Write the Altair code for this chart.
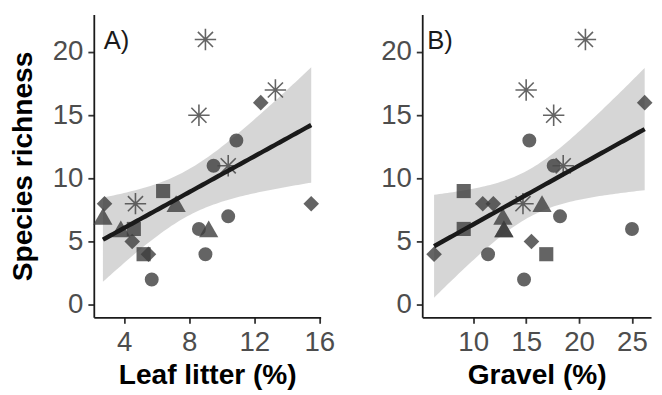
import altair as alt
import numpy as np
import pandas as pd

# ---- data ----
groups = ["ast"] * 5 + ["dia"] * 5 + ["cir"] * 6 + ["sqr"] * 3 + ["tri"] * 4
richness = [21, 17, 15, 11, 8,
            16, 8, 8, 5, 4,
            13, 11, 7, 6, 4, 2,
            9, 6, 4,
            8, 7, 6, 6]
leaf_litter = [9.0, 13.3, 8.6, 10.4, 4.7,
               12.4, 15.5, 2.8, 4.5, 5.5,
               10.9, 9.5, 10.4, 8.6, 9.0, 5.7,
               6.4, 4.6, 5.2,
               7.2, 2.7, 3.8, 9.2]
gravel = [20.6, 15.0, 17.6, 18.5, 14.7,
          26.2, 10.9, 11.9, 15.5, 6.3,
          15.3, 17.6, 18.2, 25.0, 11.4, 14.8,
          9.1, 9.1, 16.9,
          16.5, 12.8, 12.9, 12.9]

y_ticks = [0, 5, 10, 15, 20]
leaf_ticks = [4, 8, 12, 16]
gravel_ticks = [10, 15, 20, 25]

FONT = "Liberation Sans"
PT = "#3d3d3d"
ASTERISK = "M-1,0L1,0M0,-1L0,1M-0.707,-0.707L0.707,0.707M-0.707,0.707L0.707,-0.707"
Y_DOMAIN = [-1.0, 22.97]


def fit_band(x, y, n_grid=80, t=2.080):
    x = np.asarray(x, float)
    y = np.asarray(y, float)
    n = len(x)
    b1, b0 = np.polyfit(x, y, 1)
    resid = y - (b0 + b1 * x)
    s = np.sqrt(np.sum(resid ** 2) / (n - 2))
    xbar = x.mean()
    sxx = np.sum((x - xbar) ** 2)
    g = np.linspace(x.min(), x.max(), n_grid)
    fit = b0 + b1 * g
    se = s * np.sqrt(1.0 / n + (g - xbar) ** 2 / sxx)
    return pd.DataFrame({"x": g, "fit": fit, "lo": fit - t * se, "hi": fit + t * se})


def panel(xvals, xdomain, xticks, xtitle, label, label_x, show_ytitle):
    pts = pd.DataFrame({"x": xvals, "y": richness, "g": groups})
    band = fit_band(xvals, richness)
    lab = pd.DataFrame({"x": [label_x], "y": [20.86], "t": [label]})

    xs = alt.Scale(domain=xdomain, nice=False, zero=False)
    ys = alt.Scale(domain=Y_DOMAIN, nice=False, zero=False)
    xaxis = alt.Axis(values=xticks, title=xtitle)
    yaxis = alt.Axis(values=y_ticks,
                     title="Species richness" if show_ytitle else None)
    xe = alt.X("x:Q", scale=xs, axis=xaxis)
    ye = alt.Y("y:Q", scale=ys, axis=yaxis)

    area = alt.Chart(band).mark_area(color="#999999", opacity=0.4).encode(
        x=alt.X("x:Q", scale=xs, axis=xaxis),
        y=alt.Y("lo:Q", scale=ys, axis=yaxis),
        y2="hi:Q",
    )
    layers = [area]
    filled = [("cir", "circle", 200), ("sqr", "square", 205),
              ("tri", "triangle-up", 380), ("dia", "diamond", 250)]
    for key, shp, sz in filled:
        layers.append(
            alt.Chart(pts).transform_filter(alt.datum.g == key)
            .mark_point(filled=True, shape=shp, size=sz, color=PT, opacity=0.8)
            .encode(x=xe, y=ye)
        )
    layers.append(
        alt.Chart(pts).transform_filter(alt.datum.g == "ast")
        .mark_point(filled=False, shape=ASTERISK, size=470, color="#4a4a4a",
                    strokeWidth=1.6, opacity=0.85)
        .encode(x=xe, y=ye)
    )
    line = alt.Chart(band).mark_line(color="#1a1a1a", strokeWidth=4.5).encode(
        x=alt.X("x:Q", scale=xs), y=alt.Y("fit:Q", scale=ys))
    layers.append(line)
    text = alt.Chart(lab).mark_text(align="left", baseline="middle", fontSize=26,
                                    font=FONT, color="#1a1a1a").encode(
        x=alt.X("x:Q", scale=xs), y=alt.Y("y:Q", scale=ys), text="t:N")
    layers.append(text)
    return alt.layer(*layers)


pa = panel(leaf_litter, [2.14, 16.08], leaf_ticks, "Leaf litter (%)", "A)", 2.75, True
           ).properties(width=230, height=307)
pb = panel(gravel, [5.18, 26.8], gravel_ticks, "Gravel (%)", "B)", 5.65, False
           ).properties(width=232, height=307)

chart = alt.hconcat(pa, pb, spacing=103, bounds="flush").properties(
    padding={"left": 0, "top": 4, "right": 0, "bottom": 0},
    background="white",
).configure_view(stroke=None).configure_axis(
    grid=False,
    domainColor="#1a1a1a",
    domainWidth=1.8,
    tickColor="#333333",
    tickWidth=1.8,
    tickSize=6,
    labelFont=FONT,
    labelFontSize=28,
    labelColor="#4d4d4d",
    titleFont=FONT,
    titleFontSize=28.5,
    titleFontWeight="bold",
    titleColor="#000000",
).configure_axisX(labelPadding=6, titlePadding=4).configure_axisY(labelPadding=5, titlePadding=15)

chart.save("out.html", embed_options={"renderer": "svg", "actions": False})
